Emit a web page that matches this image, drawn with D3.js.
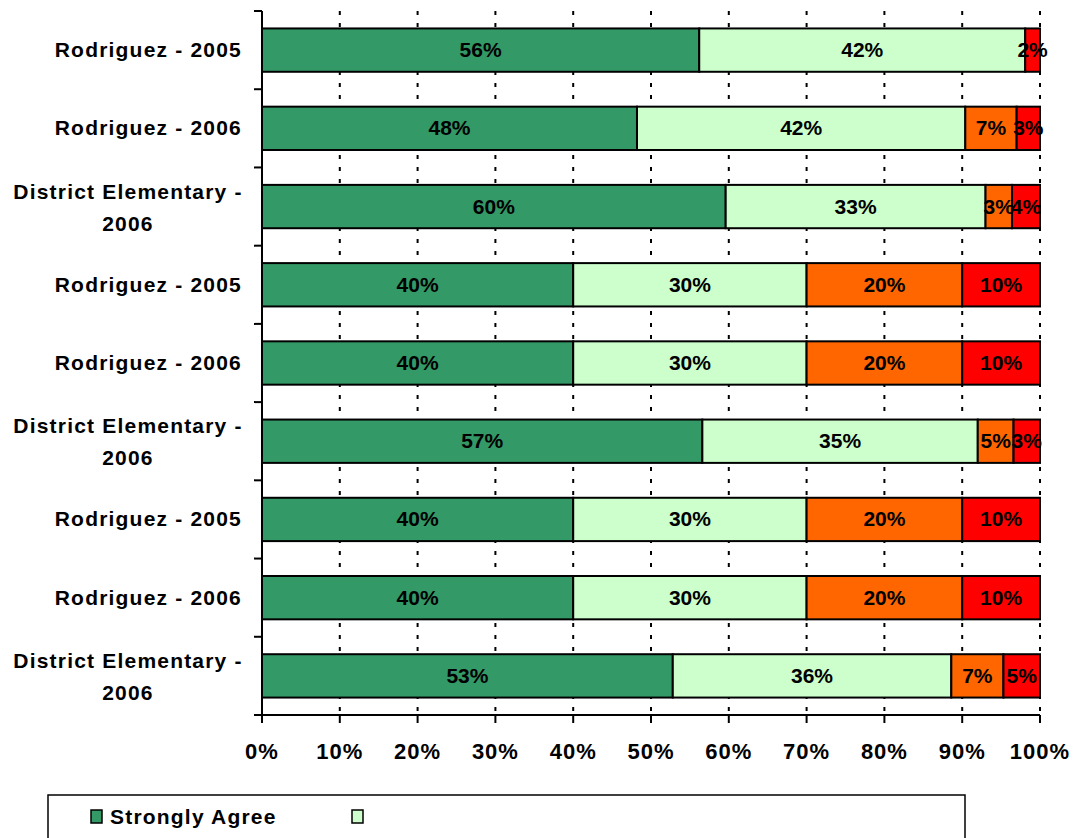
<!DOCTYPE html>
<html>
<head>
<meta charset="utf-8">
<script src="https://cdn.jsdelivr.net/npm/d3@7"></script>
<style>
  body { margin: 0; background: #fff; }
  svg text { font-family: "Liberation Sans", Arial, sans-serif; font-weight: bold; }
</style>
</head>
<body>
<div id="app"></div>
<script>
const categories = [
  'Rodriguez - 2005', 'Rodriguez - 2006', 'District Elementary - 2006',
  'Rodriguez - 2005', 'Rodriguez - 2006', 'District Elementary - 2006',
  'Rodriguez - 2005', 'Rodriguez - 2006', 'District Elementary - 2006'
]
const strongly = [56.2, 48.2, 59.6, 40, 40, 56.6, 40, 40, 52.8]
const agree    = [41.9, 42.2, 33.4, 30, 30, 35.4, 30, 30, 35.8]
const disagree = [0,    6.6,  3.4,  20, 20, 4.6,  20, 20, 6.7]
const stronglyDis = [1.9, 3.0, 3.6, 10, 10, 3.4,  10, 10, 4.7]
const xTicks = [0, 10, 20, 30, 40, 50, 60, 70, 80, 90, 100]

const series = [strongly, agree, disagree, stronglyDis]
const colors = ['#339966', '#CCFFCC', '#FF6600', '#FF0000']

const width = 1083
const height = 838
const padLeft = 262, padRight = 1040, padTop = 11, padBottom = 715

const svg = d3.select('#app').append('svg')
  .attr('width', width)
  .attr('height', height)

const x = d3.scaleLinear().domain([0, 100]).range([padLeft, padRight])
const y = d3.scaleBand().domain(d3.range(categories.length)).range([padTop, padBottom]).paddingInner(0.446).paddingOuter(0.223)

// dotted grid
svg.append('g')
  .selectAll('line')
  .data(xTicks.slice(1))
  .enter().append('line')
  .attr('x1', d => x(d)).attr('x2', d => x(d))
  .attr('y1', padTop).attr('y2', padBottom)
  .attr('stroke', '#000')
  .attr('stroke-width', 2)
  .attr('stroke-dasharray', '4,8')

// bars
const rows = categories.map((c, i) => {
  let acc = 0
  return series.map((s, k) => {
    const seg = { i, k, x0: acc, v: s[i] }
    acc += s[i]
    return seg
  }).filter(d => d.v > 0)
})

const g = svg.append('g')
rows.forEach(row => {
  g.selectAll(null)
    .data(row)
    .enter().append('rect')
    .attr('x', d => x(d.x0))
    .attr('y', d => y(d.i))
    .attr('width', d => x(d.x0 + d.v) - x(d.x0))
    .attr('height', y.bandwidth())
    .attr('fill', d => colors[d.k])
    .attr('stroke', '#000')
    .attr('stroke-width', 2)

  g.selectAll(null)
    .data(row)
    .enter().append('text')
    .attr('x', d => (x(d.x0) + x(d.x0 + d.v)) / 2)
    .attr('y', d => y(d.i) + y.bandwidth() / 2 + 7)
    .attr('text-anchor', 'middle')
    .style('font-size', '21px')
    .text(d => Math.round(d.v) + '%')
})

// left axis
const axisY = svg.append('g')
axisY.append('line')
  .attr('x1', padLeft).attr('x2', padLeft)
  .attr('y1', padTop).attr('y2', padBottom)
  .attr('stroke', '#000').attr('stroke-width', 2)
axisY.selectAll('.tk')
  .data(d3.range(categories.length + 1))
  .enter().append('line')
  .attr('x1', padLeft - 8).attr('x2', padLeft)
  .attr('y1', d => padTop + d * y.step()).attr('y2', d => padTop + d * y.step())
  .attr('stroke', '#000').attr('stroke-width', 2)

categories.forEach((c, i) => {
  const cy = y(i) + y.bandwidth() / 2
  const t = axisY.append('text')
    .style('font-size', '21px')
    .style('letter-spacing', '1.2px')
  if (c.length > 20) {
    t.attr('text-anchor', 'middle')
    t.append('tspan').attr('x', 128).attr('y', cy - 8).text('District Elementary -')
    t.append('tspan').attr('x', 128).attr('y', cy + 24).text('2006')
  } else {
    t.attr('text-anchor', 'end').attr('x', 242).attr('y', cy + 7).text(c)
  }
})

// bottom axis
const axisX = svg.append('g')
axisX.append('line')
  .attr('x1', padLeft).attr('x2', padRight)
  .attr('y1', padBottom).attr('y2', padBottom)
  .attr('stroke', '#000').attr('stroke-width', 2)
axisX.selectAll('.tk')
  .data(xTicks)
  .enter().append('line')
  .attr('x1', d => x(d)).attr('x2', d => x(d))
  .attr('y1', padBottom).attr('y2', padBottom + 8)
  .attr('stroke', '#000').attr('stroke-width', 2)
axisX.selectAll('text')
  .data(xTicks)
  .enter().append('text')
  .attr('x', d => x(d))
  .attr('y', 759)
  .attr('text-anchor', 'middle')
  .style('font-size', '22px')
  .style('letter-spacing', '1px')
  .text(d => d + '%')

// legend
const legend = svg.append('g')
legend.append('rect')
  .attr('x', 48).attr('y', 795)
  .attr('width', 917).attr('height', 60)
  .attr('fill', '#fff').attr('stroke', '#000').attr('stroke-width', 1.5)
legend.append('rect')
  .attr('x', 91).attr('y', 810).attr('width', 11).attr('height', 13)
  .attr('fill', colors[0]).attr('stroke', '#000').attr('stroke-width', 1.5)
legend.append('text')
  .attr('x', 110).attr('y', 824)
  .style('font-size', '21px')
  .style('letter-spacing', '1.2px')
  .text('Strongly Agree')
legend.append('rect')
  .attr('x', 352).attr('y', 810).attr('width', 11).attr('height', 13)
  .attr('fill', colors[1]).attr('stroke', '#000').attr('stroke-width', 1.5)
</script>
</body>
</html>
